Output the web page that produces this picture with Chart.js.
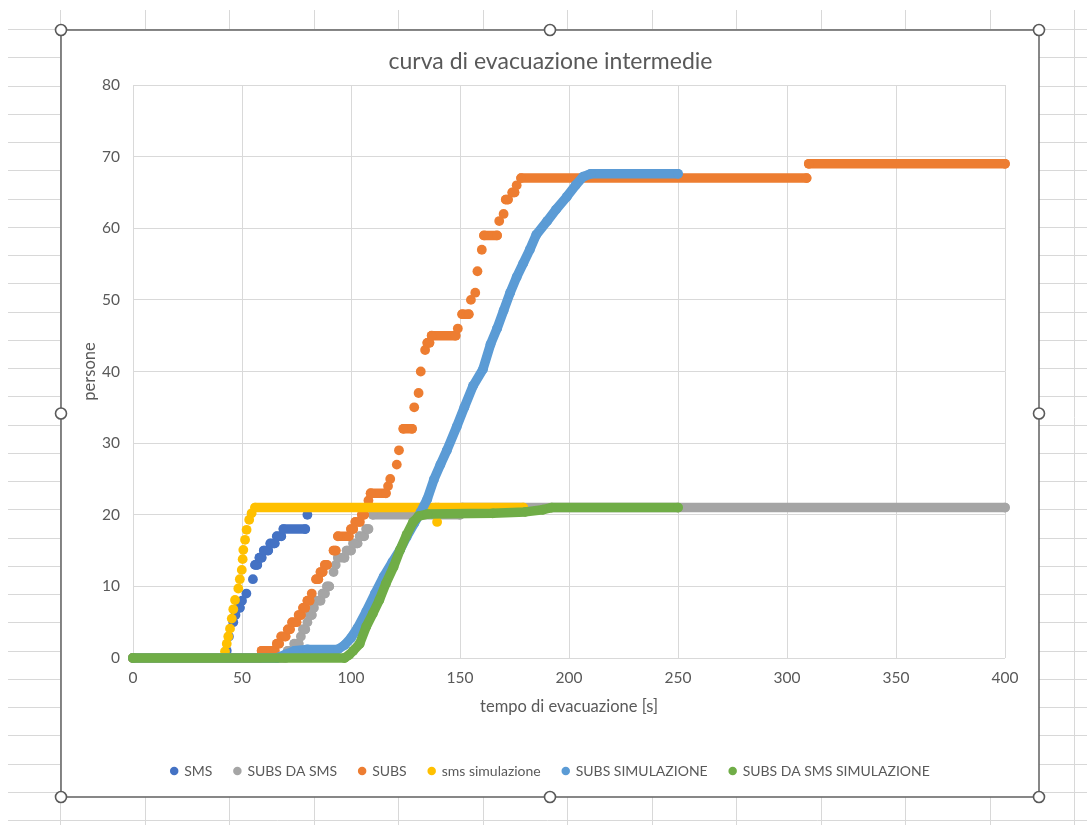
<!DOCTYPE html>
<html>
<head>
<meta charset="utf-8">
<script src="https://cdn.jsdelivr.net/npm/chart.js@4.4.1/dist/chart.umd.min.js"></script>
<style>
html,body{margin:0;padding:0;background:#fff;}
canvas{display:block;}
</style>
</head>
<body>
<canvas id="c" width="1087" height="825"></canvas>
<script>
// ---------- DATA ----------
const chartTitle = 'curva di evacuazione intermedie';
const xTitle = 'tempo di evacuazione [s]';
const yTitle = 'persone';
const seriesNames = ['SMS', 'SUBS DA SMS', 'SUBS', 'sms simulazione', 'SUBS SIMULAZIONE', 'SUBS DA SMS SIMULAZIONE'];

// SMS
const smsT = [0, 42, 43, 44, 46, 47, 48, 49, 50, 52, 55, 56, 57, 58, 59, 60, 62, 63, 65, 66, 68, 69, 79, 80];
const smsY = [0, 0, 1, 3, 5, 6, 7, 7, 8, 9, 11, 13, 13, 14, 14, 15, 15, 16, 16, 17, 17, 18, 18, 20];

// SUBS DA SMS
const subsDaSmsT = [0, 70, 71, 73, 74, 76, 77, 78, 79, 80, 81, 82, 83, 84, 86, 87, 88, 89, 90, 92, 93, 94, 97, 98, 100, 101, 103, 104, 106, 107, 108, 110, 150, 151, 400];
const subsDaSmsY = [0, 0, 1, 1, 2, 2, 3, 4, 4, 5, 6, 6, 7, 8, 8, 9, 9, 10, 10, 12, 13, 14, 14, 15, 15, 16, 16, 17, 17, 18, 18, 20, 20, 21, 21];

// SUBS
const subsT = [0, 58, 59, 65, 66, 67, 68, 70, 71, 72, 73, 75, 76, 77, 78, 79, 80, 81, 82, 84, 85, 86, 87, 88, 89, 92, 93, 94, 99, 100, 101, 102, 104, 105, 106, 107, 108, 109, 116, 117, 118, 121, 122, 124, 128, 129, 131, 132, 134, 135, 136, 137, 148, 149, 151, 154, 155, 157, 158, 160, 161, 167, 168, 170, 171, 172, 174, 175, 176, 178, 309, 310, 400];
const subsY = [0, 0, 1, 1, 2, 2, 3, 3, 4, 4, 5, 5, 6, 6, 7, 7, 8, 8, 9, 11, 11, 12, 12, 13, 13, 15, 15, 17, 17, 18, 18, 19, 19, 20, 20, 21, 22, 23, 23, 24, 25, 27, 29, 32, 32, 35, 37, 40, 43, 44, 44, 45, 45, 46, 48, 48, 50, 51, 54, 57, 59, 59, 61, 62, 64, 64, 65, 65, 66, 67, 67, 69, 69];

// sms simulazione
const smsSimT = [0, 41.5, 42.2, 43, 43.7, 44.5, 45.3, 46, 46.8, 48.3, 49, 49.9, 50.3, 50.6, 51.4, 52.1, 53.3, 54.4, 56, 139, 139.5, 140, 179];
const smsSimY = [0, 0, 0.9, 2, 3, 4.1, 5.5, 6.8, 8.1, 9.7, 11, 12.3, 13.8, 15.1, 16.5, 17.9, 19.3, 20.2, 21, 21, 19, 21, 21];

// SUBS SIMULAZIONE
const subsSimT = [0, 66, 70, 74, 80, 94, 97, 100, 103, 107, 111, 115, 119, 122.5, 125.5, 129, 132, 135, 138, 141, 144, 148.5, 152, 156, 160.5, 164, 167, 170, 173, 176, 179, 182, 185, 190, 194, 199, 203, 206.5, 210, 250];
const subsSimY = [0, 0, 0.5, 1, 1.2, 1.2, 1.8, 2.8, 4.2, 6.5, 9, 11.4, 13.4, 15.1, 16.9, 18.8, 20.4, 22.2, 24.9, 27, 29, 32.3, 35, 38, 40.3, 43.8, 46, 48.5, 51, 53.2, 55.1, 57, 59.1, 61, 62.6, 64.4, 66, 67.2, 67.6, 67.6];

// SUBS DA SMS SIMULAZIONE
const subsDaSmsSimT = [0, 97, 99, 101, 104, 107, 110, 113, 116, 119.5, 122.5, 125.5, 128.5, 131, 135, 165, 180, 188, 192, 250];
const subsDaSmsSimY = [0, 0, 0.4, 1, 2, 4.4, 6.2, 8.1, 10.4, 12.7, 15.1, 17.2, 19, 19.8, 20.1, 20.2, 20.4, 20.7, 21, 21];

const xMin = 0, xMax = 400, xStep = 50;
const yMin = 0, yMax = 80, yStep = 10;

// ---------- STYLE ----------
const colors = ['#4472C4', '#A5A5A5', '#ED7D31', '#FFC000', '#5B9BD5', '#70AD47'];
const continuous = [false, false, false, false, true, true];
const textColor = '#595959';
const FONT = 'Lato';

const seriesT = [smsT, subsDaSmsT, subsT, smsSimT, subsSimT, subsDaSmsSimT];
const seriesY = [smsY, subsDaSmsY, subsY, smsSimY, subsSimY, subsDaSmsSimY];

const datasets = seriesNames.map((name, i) => {
  const col = colors[i];
  const ds = {
    label: name,
    data: seriesT[i].map((t, k) => ({x: t, y: seriesY[i][k]})),
    showLine: true,
    borderColor: col,
    backgroundColor: col,
    pointBackgroundColor: col,
    borderWidth: 9.5,
    borderCapStyle: 'round',
    borderJoinStyle: 'round',
    pointRadius: 4.9,
    pointHoverRadius: 4.9,
    pointBorderWidth: 0,
    pointStyle: 'circle',
    tension: 0,
    order: 6 - i,
    clip: 6
  };
  if (!continuous[i]) {
    ds.segment = { borderColor: c => (c.p0.parsed.y === c.p1.parsed.y ? col : 'rgba(0,0,0,0)') };
  }
  return ds;
});

// sheet background + chart frame
const frame = {left: 61, top: 30, right: 1039, bottom: 797};
const sheetPlugin = {
  id: 'sheet',
  beforeDraw(chart) {
    const ctx = chart.ctx;
    const W = chart.width, H = chart.height;
    ctx.save();
    ctx.fillStyle = '#ffffff';
    ctx.fillRect(0, 0, W, H);
    ctx.strokeStyle = '#D8D8D8';
    ctx.lineWidth = 1;
    for (let x = 60; x < W; x += 84.5) {
      ctx.beginPath(); ctx.moveTo(Math.round(x) + 0.5, 10); ctx.lineTo(Math.round(x) + 0.5, H); ctx.stroke();
    }
    for (let y = 29; y < H; y += 28.25) {
      ctx.beginPath(); ctx.moveTo(8, Math.round(y) + 0.5); ctx.lineTo(W, Math.round(y) + 0.5); ctx.stroke();
    }
    ctx.fillStyle = '#ffffff';
    ctx.fillRect(frame.left, frame.top, frame.right - frame.left, frame.bottom - frame.top);
    ctx.strokeStyle = '#6A6A6A';
    ctx.lineWidth = 1.6;
    ctx.strokeRect(frame.left, frame.top, frame.right - frame.left, frame.bottom - frame.top);
    ctx.restore();
  },
  afterDraw(chart) {
    const ctx = chart.ctx;
    const mx = (frame.left + frame.right) / 2, my = (frame.top + frame.bottom) / 2;
    const handles = [[frame.left, frame.top], [mx, frame.top], [frame.right, frame.top],
                     [frame.left, my], [frame.right, my],
                     [frame.left, frame.bottom], [mx, frame.bottom], [frame.right, frame.bottom]];
    ctx.save();
    ctx.fillStyle = '#ffffff';
    ctx.strokeStyle = '#5A5A5A';
    ctx.lineWidth = 1.6;
    handles.forEach(([x, y]) => {
      ctx.beginPath(); ctx.arc(x, y, 5.5, 0, Math.PI * 2); ctx.fill(); ctx.stroke();
    });
    ctx.restore();
  }
};

function build() {
  new Chart(document.getElementById('c'), {
    type: 'scatter',
    data: { datasets },
    plugins: [sheetPlugin],
    options: {
      responsive: false,
      animation: false,
      events: [],
      layout: { padding: { left: 62, right: 48, top: 31, bottom: 37 } },
      plugins: {
        tooltip: { enabled: false },
        title: {
          display: true, text: chartTitle, color: textColor,
          font: { family: FONT, size: 23, weight: 'normal' },
          padding: { top: 17.2, bottom: 9.2 }
        },
        legend: {
          display: true, position: 'bottom',
          labels: {
            usePointStyle: true, pointStyle: 'circle', boxWidth: 6, boxHeight: 6,
            padding: 22, color: textColor,
            font: { family: FONT, size: 14 },
            sort: (a, b) => a.datasetIndex - b.datasetIndex
          }
        }
      },
      scales: {
        x: {
          type: 'linear', position: 'bottom', min: xMin, max: xMax,
          ticks: { stepSize: xStep, padding: 10.7, color: textColor, font: { family: FONT, size: 15.5 } },
          grid: { color: '#D9D9D9', drawTicks: false, lineWidth: 1 },
          border: { display: false },
          title: { display: true, text: xTitle, color: textColor, font: { family: FONT, size: 16.5 }, padding: { top: 0, bottom: 25.1 } },
          afterFit: s => { s.height = 84; }
        },
        y: {
          type: 'linear', position: 'left', min: yMin, max: yMax,
          ticks: { stepSize: yStep, padding: 13, color: textColor, font: { family: FONT, size: 15.5 } },
          grid: { color: '#D9D9D9', drawTicks: false, lineWidth: 1 },
          border: { display: false },
          title: { display: true, text: yTitle, color: textColor, font: { family: FONT, size: 16.5 }, padding: { top: 18.1, bottom: 0 } },
          afterFit: s => { s.width = 71; }
        },
        yRight: {
          type: 'linear', position: 'right', display: true,
          ticks: { display: false }, grid: { display: false, drawTicks: false }, border: { display: false },
          afterFit: s => { s.width = 34; }
        }
      }
    }
  });
}
if (document.fonts && document.fonts.load) {
  document.fonts.load('14px Lato').then(build, build);
} else { build(); }
</script>
</body>
</html>
